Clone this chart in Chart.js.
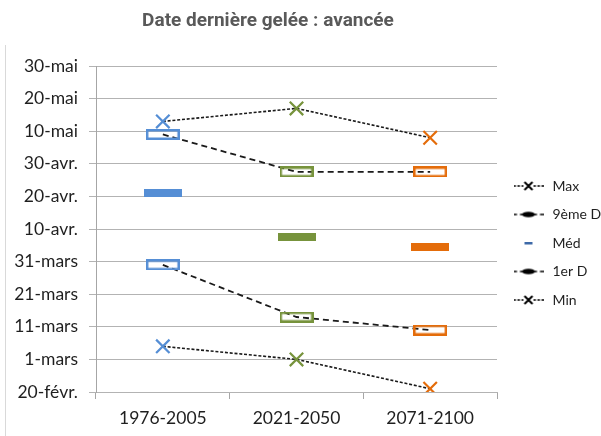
<!DOCTYPE html>
<html>
<head>
<meta charset="utf-8">
<script src="https://cdn.jsdelivr.net/npm/chart.js@4/dist/chart.umd.min.js"></script>
<style>
  html, body { margin: 0; padding: 0; background: #fff; }
</style>
</head>
<body>
<canvas id="gelee" width="601" height="436"></canvas>
<script>
// periodes et jours (serie Excel : 51 = 20-févr.)
var periods = ['1976-2005', '2021-2050', '2071-2100']
var dayTicks = ['20-févr.', '1-mars', '11-mars', '21-mars', '31-mars', '10-avr.', '20-avr.', '30-avr.', '10-mai', '20-mai', '30-mai']
var firstTick = 51
var maxDay = [134, 138, 129]
var d9Day = [130, 118.5, 118.5]
var medDay = [112, 98.5, 95.5]
var d1Day = [90, 74, 70]
var minDay = [65, 61, 52]
var colors = ['#558ed5', '#77933c', '#e46c0a']
var titre = 'Date dernière gelée : avancée'

function mkCanvas(w, h, draw){
  var c = document.createElement('canvas')
  c.width = w
  c.height = h
  draw(c.getContext('2d'))
  return c
}

// marqueurs des points
var boxImgs = colors.map(function(col){
  return mkCanvas(34, 11, function(ctx){
    ctx.strokeStyle = col
    ctx.lineWidth = 2.5
    ctx.strokeRect(1.25, 1.25, 31.5, 8.5)
  })
})
var medImgs = colors.map(function(col){
  return mkCanvas(38, 8, function(ctx){
    ctx.fillStyle = col
    ctx.fillRect(0, 0, 38, 8)
  })
})

// symboles de la legende
function legendLine(ctx, dash){
  ctx.strokeStyle = '#000'
  ctx.lineWidth = 1.6
  ctx.setLineDash(dash)
  ctx.beginPath()
  ctx.moveTo(0, 6); ctx.lineTo(10, 6)
  ctx.moveTo(20, 6); ctx.lineTo(30, 6)
  ctx.stroke()
  ctx.setLineDash([])
}
var legCross = mkCanvas(30, 12, function(ctx){
  legendLine(ctx, [2.5, 1.5])
  ctx.lineWidth = 2
  ctx.beginPath()
  ctx.moveTo(11, 2); ctx.lineTo(19, 10)
  ctx.moveTo(19, 2); ctx.lineTo(11, 10)
  ctx.stroke()
})
var legBar = mkCanvas(30, 12, function(ctx){
  legendLine(ctx, [3.5, 3])
  ctx.fillStyle = '#000'
  ctx.beginPath()
  ctx.ellipse(15, 6, 6.5, 2.8, 0, 0, Math.PI * 2)
  ctx.fill()
})
var legMed = mkCanvas(30, 12, function(ctx){
  ctx.fillStyle = '#3e6aa8'
  ctx.fillRect(11, 5, 8, 2.5)
})
var legendImgs = [legCross, legBar, legMed, legBar, legCross]

var byIndex = function(arr){ return function(c){ return arr[c.dataIndex] } }

var titlePlugin = {
  id: 'titre',
  afterDraw: function(chart){
    var ctx = chart.ctx
    ctx.save()
    ctx.font = 'bold 19px Roboto'
    ctx.fillStyle = '#595959'
    ctx.textAlign = 'center'
    ctx.fillText(titre, 268, 26)
    ctx.strokeStyle = '#d9d9d9'
    ctx.lineWidth = 1
    ctx.beginPath()
    ctx.moveTo(5.5, 45)
    ctx.lineTo(5.5, 436)
    ctx.stroke()
    ctx.restore()
  }
}

Chart.defaults.font.family = 'Lato'
Chart.defaults.color = '#1f1f1f'

var crossDs = {
  borderColor: '#1a1a1a',
  borderWidth: 1.6,
  borderDash: [3, 1.8],
  pointStyle: 'crossRot',
  pointRadius: 9.5,
  pointBorderWidth: 2.2,
  pointBorderColor: byIndex(colors),
  pointBackgroundColor: byIndex(colors),
  fill: false
}

new Chart(document.getElementById('gelee'), {
  type: 'line',
  data: {
    labels: periods,
    datasets: [
      Object.assign({label: 'Max', data: maxDay}, crossDs),
      {
        label: '9ème D', data: d9Day,
        borderColor: '#1a1a1a', borderWidth: 1.8, borderDash: [6, 4],
        pointStyle: byIndex(boxImgs), pointRadius: 10, fill: false
      },
      {
        label: 'Méd', data: medDay, showLine: false,
        pointStyle: byIndex(medImgs), pointRadius: 10
      },
      {
        label: '1er D', data: d1Day,
        borderColor: '#1a1a1a', borderWidth: 1.8, borderDash: [6, 4],
        pointStyle: byIndex(boxImgs), pointRadius: 10, fill: false
      },
      Object.assign({label: 'Min', data: minDay}, crossDs)
    ]
  },
  options: {
    responsive: false,
    animation: false,
    layout: {padding: {left: 10, top: 66, right: 0, bottom: 0}},
    plugins: {
      tooltip: {enabled: false},
      legend: {
        position: 'right',
        fullSize: false,
        maxWidth: 104,
        title: {display: true, text: '', font: {size: 10}, padding: {top: 8, bottom: 8}},
        labels: {
          usePointStyle: true,
          pointStyleWidth: 34,
          padding: 14.5,
          color: '#1f1f1f',
          font: {size: 14},
          generateLabels: function(chart){
            return chart.data.datasets.map(function(ds, i){
              return {text: ds.label, pointStyle: legendImgs[i], fillStyle: '#000', strokeStyle: '#000', lineWidth: 0, hidden: false, datasetIndex: i}
            })
          }
        }
      }
    },
    scales: {
      x: {
        offset: true,
        afterFit: function(scale){ scale.height = 44 },
        grid: {offset: true, drawOnChartArea: false, tickLength: 7, color: '#a6a6a6'},
        border: {color: '#b3b3b3'},
        ticks: {font: {size: 17.5}, padding: 9}
      },
      y: {
        min: firstTick,
        max: firstTick + (dayTicks.length - 1) * 10,
        afterFit: function(scale){ scale.width = 86 },
        grid: {color: '#b3b3b3', tickLength: 7},
        border: {color: '#a6a6a6'},
        ticks: {
          stepSize: 10,
          padding: 11,
          font: {size: 17.5},
          callback: function(v){ return dayTicks[(v - firstTick) / 10] }
        }
      }
    }
  },
  plugins: [titlePlugin]
})
</script>
</body>
</html>
